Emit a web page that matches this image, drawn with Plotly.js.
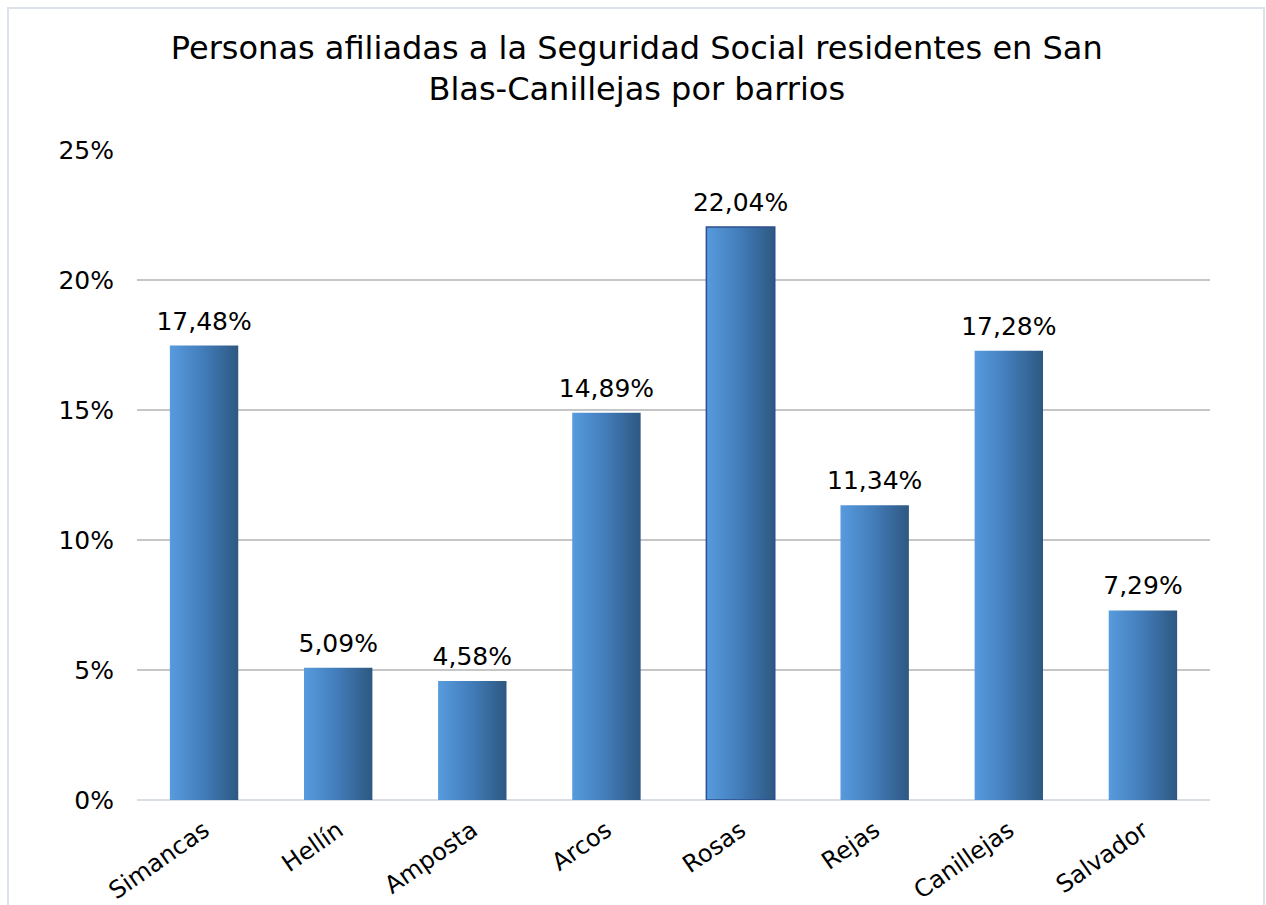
<!DOCTYPE html>
<html>
<head>
<meta charset="utf-8">
<script src="https://cdn.plot.ly/plotly-3.0.1.min.js"></script>
<style>
  html, body { margin: 0; padding: 0; background: #ffffff; }
  #chart { width: 1266px; height: 905px; }
  #frame { position: absolute; left: 7px; top: 7px; width: 1254px; height: 920px;
           border: 2px solid #dde3ea; pointer-events: none; }
</style>
</head>
<body>
<div id="chart"></div>
<div id="frame"></div>
<script>
const barrios = ['Simancas', 'Hellín', 'Amposta', 'Arcos', 'Rosas', 'Rejas', 'Canillejas', 'Salvador'];
const porcentajes = [17.48, 5.09, 4.58, 14.89, 22.04, 11.34, 17.28, 7.29];
const yTicks = [0, 5, 10, 15, 20, 25];
const tituloTexto = 'Personas afiliadas a la Seguridad Social residentes en San<br>Blas-Canillejas por barrios';

const font = 'Verdana, "DejaVu Sans", sans-serif';

const trace = {
  type: 'bar',
  x: barrios,
  y: porcentajes,
  texttemplate: '%{y:.2f}%',
  textposition: 'outside',
  constraintext: 'none',
  cliponaxis: false,
  textfont: { family: font, size: 25, color: '#000000' },
  marker: {
    color: '#4a88c8',
    line: {
      color: barrios.map(b => b === 'Rosas' ? '#2f4f8f' : 'rgba(0,0,0,0)'),
      width: barrios.map(b => b === 'Rosas' ? 1.5 : 0)
    }
  },
  hoverinfo: 'skip'
};

const layout = {
  width: 1266,
  height: 905,
  margin: { l: 137, r: 56, t: 150, b: 105 },
  paper_bgcolor: '#ffffff',
  plot_bgcolor: '#ffffff',
  separators: ',.',
  bargap: 0.49,
  showlegend: false,
  font: { family: font, size: 25, color: '#000000' },
  title: {
    text: tituloTexto,
    font: { family: font, size: 32, color: '#000000' },
    x: 0.503,
    xref: 'container',
    xanchor: 'center',
    y: 0.935,
    yref: 'container',
    yanchor: 'top'
  },
  xaxis: {
    type: 'category',
    tickangle: -35,
    tickfont: { family: font, size: 24, color: '#000000' },
    showgrid: false,
    showline: false,
    zeroline: false,
    ticks: 'outside',
    ticklen: 6,
    tickcolor: 'rgba(0,0,0,0)'
  },
  yaxis: {
    range: [0, 25],
    tickvals: yTicks,
    ticktext: yTicks.map(v => v + '%'),
    tickfont: { family: font, size: 25, color: '#000000' },
    showgrid: true,
    gridcolor: '#c6c6c6',
    gridwidth: 1.5,
    zeroline: true,
    zerolinecolor: '#d9dee4',
    zerolinewidth: 2,
    showline: false,
    ticks: 'outside',
    ticklen: 17,
    tickcolor: 'rgba(0,0,0,0)'
  }
};

Plotly.newPlot('chart', [trace], layout, { displayModeBar: false, staticPlot: true }).then(gd => {
  const svg = gd.querySelector('svg.main-svg');
  const ns = 'http://www.w3.org/2000/svg';
  let defs = svg.querySelector('defs');
  if (!defs) { defs = document.createElementNS(ns, 'defs'); svg.insertBefore(defs, svg.firstChild); }
  const grad = document.createElementNS(ns, 'linearGradient');
  grad.setAttribute('id', 'barGrad');
  grad.setAttribute('x1', '0'); grad.setAttribute('y1', '0');
  grad.setAttribute('x2', '1'); grad.setAttribute('y2', '0');
  [['0', '#579bde'], ['0.45', '#447fbd'], ['1', '#2d5882']].forEach(([o, c]) => {
    const s = document.createElementNS(ns, 'stop');
    s.setAttribute('offset', o); s.setAttribute('stop-color', c);
    grad.appendChild(s);
  });
  defs.appendChild(grad);
  gd.querySelectorAll('.barlayer .point path').forEach(p => {
    p.style.fill = 'url(#barGrad)';
  });
  // lift the value labels a little further above the bars, as in the reference
  gd.querySelectorAll('.barlayer .bartext').forEach(t => {
    const g = document.createElementNS(ns, 'g');
    g.setAttribute('transform', 'translate(0,-7)');
    t.parentNode.insertBefore(g, t);
    g.appendChild(t);
  });
});
</script>
</body>
</html>
